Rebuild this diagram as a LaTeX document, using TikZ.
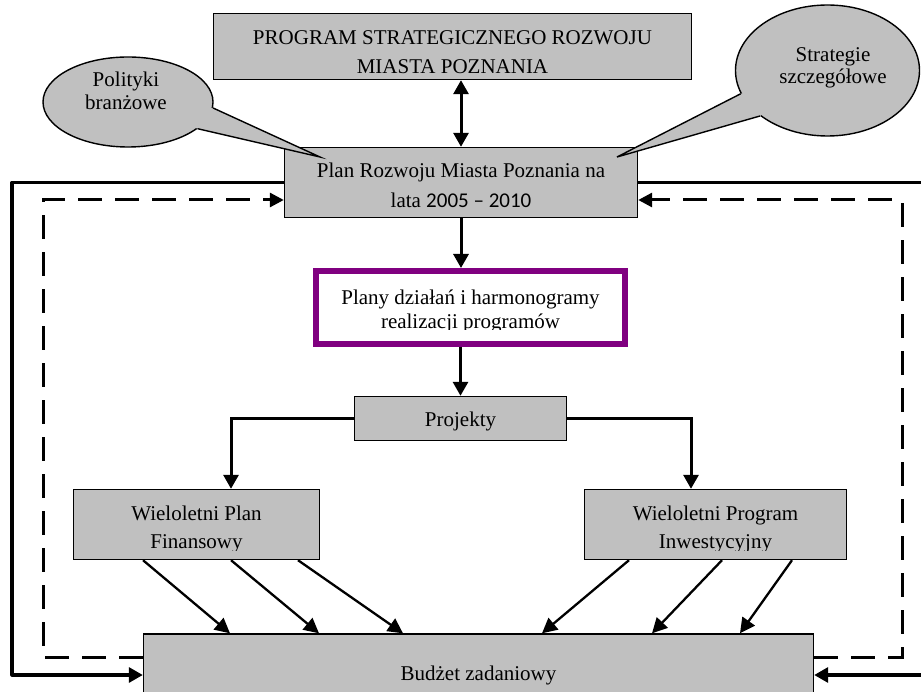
\documentclass[tikz,border=0pt]{standalone}
\usepackage{fontspec}
\setmainfont{Liberation Serif}
\newfontfamily\digitfont{Carlito}
\usetikzlibrary{arrows.meta,shapes.geometric}

\definecolor{boxgray}{HTML}{C0C0C0}
\definecolor{framepurple}{HTML}{800080}

\begin{document}
\begin{tikzpicture}[x=1pt,y=-1pt,
  lbl/.style={align=center, inner sep=0pt, font=\fontsize{21}{28}\selectfont},
  lines/.style={font=\fontsize{21}{#1}\selectfont},
  graybox/.style={draw=black, line width=1.4pt, fill=boxgray, inner sep=0pt},
  purplebox/.style={draw=framepurple, line width=6pt, fill=white, inner sep=0pt},
  bubble/.style={ellipse, draw=black, line width=1.4pt, fill=boxgray, inner sep=0pt},
  tail/.style={draw=black, line width=1.4pt, line join=miter},
  tip/.style={-{Triangle[length=14pt,width=15pt]}},
  stem/.style={line width=3pt, tip},
  twoway/.style={line width=3pt, {Triangle[length=14pt,width=15pt]}-{Triangle[length=14pt,width=15pt]}},
  feed/.style={line width=2.3pt, -{Triangle[length=15pt,width=15pt]}},
  solidloop/.style={line width=3.2pt, line join=round, tip},
  dashloop/.style={line width=3pt, dash pattern=on 24pt off 13pt, -{Triangle[length=14pt,width=14pt]}},
  dashend/.style={line width=3pt, dash pattern=on 24pt off 13pt}
]
\useasboundingbox (0,0) rectangle (921,692);
\clip (0,0) rectangle (921,692);

% ---- boxes ----
\node[graybox, minimum width=478pt, minimum height=66pt] (top) at (452.5,46.5) {};
\node[graybox, minimum width=353pt, minimum height=70pt] (plan) at (461,182.5) {};
\node[purplebox, minimum width=309pt, minimum height=73pt] (act) at (470.5,307.5) {};
\node[graybox, minimum width=212pt, minimum height=44pt] (proj) at (460.5,418.5) {};
\node[graybox, minimum width=246pt, minimum height=70pt] (wpf) at (196.5,524.5) {};
\node[graybox, minimum width=262pt, minimum height=70pt] (wpi) at (715.5,524.5) {};
\node[graybox, minimum width=670pt, minimum height=78pt] (bud) at (478.5,673) {};

% ---- box texts ----
\node[lbl, lines=29] (topt) at (452.5,52.5) {PROGRAM STRATEGICZNEGO ROZWOJU\\MIASTA POZNANIA};
\node[lbl, lines=30] (plant) at (461,185) {Plan Rozwoju Miasta Poznania na\\lata {\digitfont 2005 – 2010}};
\begin{scope}
  \clip (act.north west) rectangle (625,330);
  \node[lbl, lines=24] (actt) at (470.5,311) {Plany działań i harmonogramy\\realizacji programów};
\end{scope}
\node[lbl] (projt) at (460.5,421) {Projekty};
\begin{scope}
  \clip (wpf.north west) rectangle (320,550);
  \node[lbl, lines=28] (wpft) at (196.5,529) {Wieloletni Plan\\Finansowy};
\end{scope}
\begin{scope}
  \clip (wpi.north west) rectangle (847,550);
  \node[lbl, lines=28] (wpit) at (715.5,529) {Wieloletni Program\\Inwestycyjny};
\end{scope}
\node[lbl] (budt) at (478.5,675) {Budżet zadaniowy};

% ---- callouts ----
\node[bubble, minimum width=170pt, minimum height=90pt] (pol) at (128,102) {};
\coordinate (poltip) at (320,157);
\fill[boxgray] (pol.-4) -- (poltip) -- (pol.-21) -- (pol.center) -- cycle;
\draw[tail] (pol.-4) -- (poltip) -- (pol.-21);
\node[lbl, lines=23] (polt) at (126,90.5) {Polityki\\branżowe};

\node[bubble, minimum width=184pt, minimum height=131pt] (str) at (827.5,70.5) {};
\coordinate (strtip) at (617,157);
\fill[boxgray] (str.195) -- (strtip) -- (str.214) -- (str.center) -- cycle;
\draw[tail] (str.195) -- (strtip) -- (str.214);
\node[lbl, lines=22] (strt) at (833,67.5) {Strategie\\szczegółowe};

% ---- main flow ----
\draw[twoway] (plan.north |- top.south) -- (plan.north);
\draw[stem] (plan.south) -- (plan.south |- act.north);
\draw[stem] (proj.north |- act.south) -- (proj.north);
\draw[stem] (proj.west) -| ([xshift=34.5pt]wpf.north);
\draw[stem] (proj.east) -| ([xshift=-24.5pt]wpi.north);

% ---- into the task budget ----
\draw[feed] ([xshift=-53.5pt]wpf.south) -- ([xshift=-248.5pt]bud.north);
\draw[feed] ([xshift=34.5pt]wpf.south) -- ([xshift=-159.5pt]bud.north);
\draw[feed] ([xshift=101.5pt]wpf.south) -- ([xshift=-75.5pt]bud.north);
\draw[feed] ([xshift=-86.5pt]wpi.south) -- ([xshift=63.5pt]bud.north);
\draw[feed] ([xshift=6.5pt]wpi.south) -- ([xshift=173.5pt]bud.north);
\draw[feed] ([xshift=76.5pt]wpi.south) -- ([xshift=261.5pt]bud.north);

% ---- outer solid loops ----
\coordinate (lo1) at (12,182.5);
\coordinate (lo2) at (12,675);
\draw[solidloop] (plan.west) -- (lo1) -- (lo2) -- (lo2 -| bud.west);
\coordinate (ro1) at (945,182.5);
\coordinate (ro2) at (945,675);
\draw[solidloop] (plan.east) -- (ro1) -- (ro2) -- (ro2 -| bud.east);

% ---- dashed feedback loops ----
\coordinate (ld1) at (43,657);
\coordinate (ld2) at (43,200);
\draw[dashloop] (ld1 -| bud.west) -- (ld1) -- (ld2) -- (ld2 -| plan.west);
\coordinate (rd1) at (902,657);
\coordinate (rd2) at (902,200);
\draw[dashloop] (rd1 -| bud.east) -- (rd1) -- (rd2) -- (rd2 -| plan.east);
\end{tikzpicture}
\end{document}
